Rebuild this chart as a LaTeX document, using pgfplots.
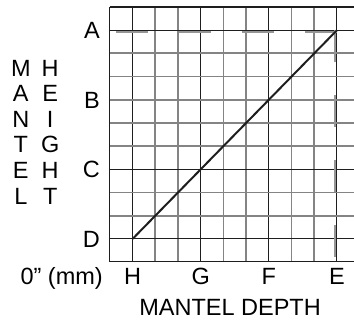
\documentclass[border=0pt]{standalone}
\usepackage{fontspec}
\setmainfont{Liberation Sans}
\usepackage{pgfplots}
\pgfplotsset{compat=1.18}
\definecolor{gridgray}{RGB}{132,132,132}
\definecolor{dashgray}{RGB}{150,150,150}
\definecolor{inkblack}{RGB}{30,30,30}
\newcommand\chartfont{\fontsize{23.5bp}{25.6bp}\selectfont}

\begin{document}
\begin{tikzpicture}
  \begin{axis}[
    scale only axis,
    x=22.7bp, y=23.18bp,
    xmin=0, xmax=10.75, ymin=0, ymax=11,
    clip=false,
    axis line style={draw=none},
    tick style={draw=none},
    xtick={1,4,7,10}, xticklabels={H,G,F,E},
    minor xtick={2,3,5,6,8,9},
    ytick={1,4,7,10}, yticklabels={D,C,B,A},
    minor ytick={2,3,5,6,7,8,9},
    extra y ticks={1,4,10}, extra y tick labels={},
    extra y tick style={grid=major},
    xmajorgrids=true, xminorgrids=true,
    ymajorgrids=false, yminorgrids=true,
    major grid style={inkblack, line width=1bp},
    minor grid style={gridgray, line width=1.8bp},
    tick label style={font=\chartfont, inner sep=0pt, text height=16.8bp, text depth=0bp},
    xticklabel style={anchor=north, yshift=-6bp},
    yticklabel style={anchor=east, xshift=-10bp},
    label style={font=\chartfont},
    xlabel={MANTEL DEPTH},
    xlabel style={at={(axis description cs:0.492,-0.2118)}, anchor=base, inner sep=0pt},
    ylabel={\begin{tabular}{@{}c@{\hspace{10.5bp}}c@{}}
      M&H\\ A&E\\ N&I\\ T&G\\ E&H\\ L&T
    \end{tabular}},
    ylabel style={at={(axis description cs:-0.3065,0.498)}, anchor=center, rotate=-90, inner sep=0pt},
  ]
    % reference guides at A and E
    \addplot[dashgray, line width=2bp, dash pattern=on 32bp off 31bp, forget plot]
      coordinates {(10,9.94) (0.22,9.94)};
    \addplot[dashgray, line width=2bp, dash pattern=on 32bp off 33bp, forget plot]
      coordinates {(9.93,10) (9.93,0.08)};
    % height vs depth
    \addplot[inkblack, line width=2bp] coordinates {(1,1) (10,10)};

    \draw[inkblack, line width=1bp] (axis cs:0,11) -- (axis cs:0,0) -- (axis cs:10.75,0);
    \draw[inkblack, line width=2.2bp] (axis cs:0,11) -- (axis cs:10.75,11);
    \node[font=\chartfont, anchor=base east, inner sep=0pt] at (axis cs:-0.31,-0.97) {0'' (mm)};

    \coordinate (bbll) at (axis cs:-4.846,-2.502);
    \coordinate (bbur) at (axis cs:10.75,11.302);
  \end{axis}
  \pgfresetboundingbox
  \path[use as bounding box] (bbll) rectangle (bbur);
\end{tikzpicture}
\end{document}
